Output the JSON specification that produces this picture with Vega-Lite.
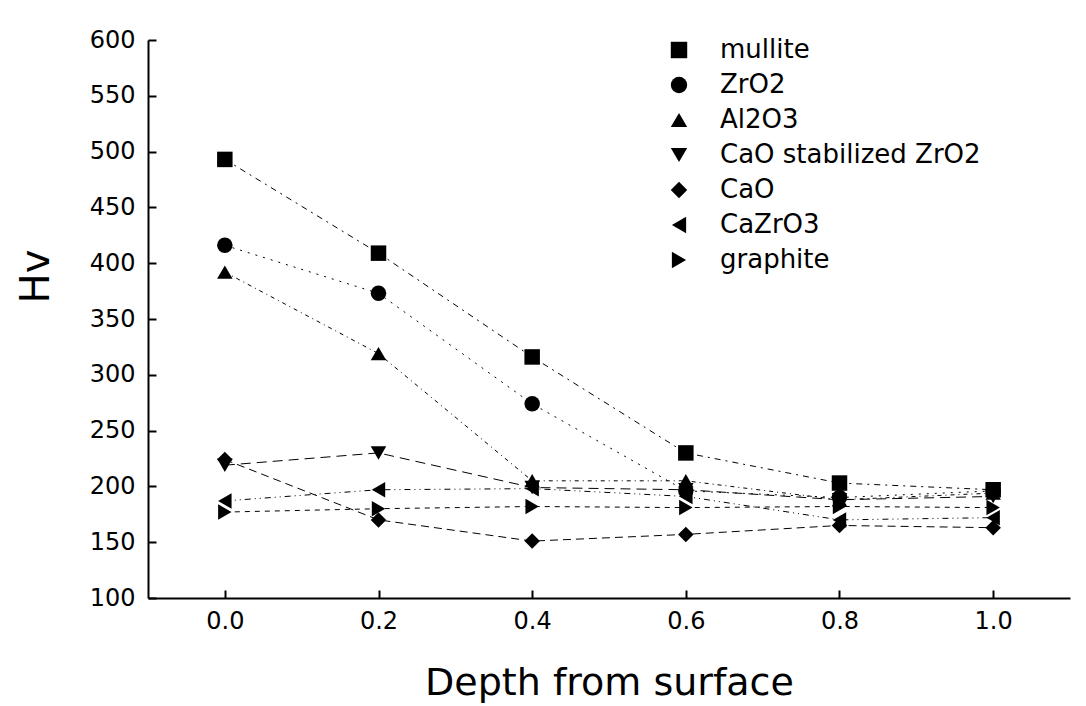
{
  "$schema": "https://vega.github.io/schema/vega-lite/v6.json",
  "width": 922,
  "height": 558,
  "autosize": {"type": "none"},
  "padding": {"left": 148, "top": 40, "right": 16, "bottom": 108},
  "background": "white",
  "config": {"view": {"stroke": null}, "font": "DejaVu Sans"},
  "data": {
    "values": [
      {"material": "mullite", "depth": 0.0, "hv": 493},
      {"material": "mullite", "depth": 0.2, "hv": 409},
      {"material": "mullite", "depth": 0.4, "hv": 316},
      {"material": "mullite", "depth": 0.6, "hv": 230},
      {"material": "mullite", "depth": 0.8, "hv": 203},
      {"material": "mullite", "depth": 1.0, "hv": 197},
      {"material": "ZrO2", "depth": 0.0, "hv": 416},
      {"material": "ZrO2", "depth": 0.2, "hv": 373},
      {"material": "ZrO2", "depth": 0.4, "hv": 274},
      {"material": "ZrO2", "depth": 0.6, "hv": 196},
      {"material": "ZrO2", "depth": 0.8, "hv": 190},
      {"material": "ZrO2", "depth": 1.0, "hv": 196},
      {"material": "Al2O3", "depth": 0.0, "hv": 392},
      {"material": "Al2O3", "depth": 0.2, "hv": 319},
      {"material": "Al2O3", "depth": 0.4, "hv": 205},
      {"material": "Al2O3", "depth": 0.6, "hv": 205},
      {"material": "Al2O3", "depth": 0.8, "hv": 188},
      {"material": "Al2O3", "depth": 1.0, "hv": 194},
      {"material": "CaO stabilized ZrO2", "depth": 0.0, "hv": 219},
      {"material": "CaO stabilized ZrO2", "depth": 0.2, "hv": 230},
      {"material": "CaO stabilized ZrO2", "depth": 0.4, "hv": 199},
      {"material": "CaO stabilized ZrO2", "depth": 0.6, "hv": 197},
      {"material": "CaO stabilized ZrO2", "depth": 0.8, "hv": 188},
      {"material": "CaO stabilized ZrO2", "depth": 1.0, "hv": 191},
      {"material": "CaO", "depth": 0.0, "hv": 224},
      {"material": "CaO", "depth": 0.2, "hv": 170},
      {"material": "CaO", "depth": 0.4, "hv": 151},
      {"material": "CaO", "depth": 0.6, "hv": 157},
      {"material": "CaO", "depth": 0.8, "hv": 165},
      {"material": "CaO", "depth": 1.0, "hv": 163},
      {"material": "CaZrO3", "depth": 0.0, "hv": 187},
      {"material": "CaZrO3", "depth": 0.2, "hv": 197},
      {"material": "CaZrO3", "depth": 0.4, "hv": 198},
      {"material": "CaZrO3", "depth": 0.6, "hv": 191},
      {"material": "CaZrO3", "depth": 0.8, "hv": 170},
      {"material": "CaZrO3", "depth": 1.0, "hv": 172},
      {"material": "graphite", "depth": 0.0, "hv": 177},
      {"material": "graphite", "depth": 0.2, "hv": 180},
      {"material": "graphite", "depth": 0.4, "hv": 182},
      {"material": "graphite", "depth": 0.6, "hv": 181},
      {"material": "graphite", "depth": 0.8, "hv": 182},
      {"material": "graphite", "depth": 1.0, "hv": 181}
    ]
  },
  "encoding": {
    "x": {
      "field": "depth",
      "type": "quantitative",
      "scale": {"domain": [-0.1, 1.1], "nice": false, "zero": false},
      "axis": {
        "values": [0, 0.2, 0.4, 0.6, 0.8, 1.0],
        "format": ".1f",
        "grid": false,
        "domainColor": "black",
        "domainWidth": 2,
        "tickColor": "black",
        "tickWidth": 2,
        "tickSize": -8,
        "labelFontSize": 24,
        "labelColor": "black",
        "labelPadding": 19,
        "title": "Depth from surface",
        "titleFontSize": 38,
        "titleFontWeight": "normal",
        "titleColor": "black",
        "titlePadding": 31
      }
    },
    "y": {
      "field": "hv",
      "type": "quantitative",
      "scale": {"domain": [100, 600], "nice": false, "zero": false},
      "axis": {
        "values": [100, 150, 200, 250, 300, 350, 400, 450, 500, 550, 600],
        "grid": false,
        "domainColor": "black",
        "domainWidth": 2,
        "tickColor": "black",
        "tickWidth": 2,
        "tickSize": -8,
        "labelFontSize": 24,
        "labelColor": "black",
        "labelPadding": 21,
        "title": "Hv",
        "titleFontSize": 40,
        "titleFontWeight": "normal",
        "titleColor": "black",
        "titleAngle": -90,
        "titleAlign": "center",
        "titleBaseline": "middle",
        "titleX": -112,
        "titleY": 236
      }
    }
  },
  "layer": [
    {"transform": [{"filter": "datum.material == 'mullite'"}], "mark": {"type": "line", "strokeWidth": 1, "color": "black", "strokeDash": [6, 5, 2, 5]}, "encoding": {}},
    {"transform": [{"filter": "datum.material == 'ZrO2'"}], "mark": {"type": "line", "strokeWidth": 1, "color": "black", "strokeDash": [2, 6]}, "encoding": {}},
    {"transform": [{"filter": "datum.material == 'Al2O3'"}], "mark": {"type": "line", "strokeWidth": 1, "color": "black", "strokeDash": [4, 4, 1, 4]}, "encoding": {}},
    {"transform": [{"filter": "datum.material == 'CaO stabilized ZrO2'"}], "mark": {"type": "line", "strokeWidth": 1, "color": "black", "strokeDash": [10, 6]}, "encoding": {}},
    {"transform": [{"filter": "datum.material == 'CaO'"}], "mark": {"type": "line", "strokeWidth": 1, "color": "black", "strokeDash": [8, 5]}, "encoding": {}},
    {"transform": [{"filter": "datum.material == 'CaZrO3'"}], "mark": {"type": "line", "strokeWidth": 1, "color": "black", "strokeDash": [6, 4, 1, 4, 1, 4]}, "encoding": {}},
    {"transform": [{"filter": "datum.material == 'graphite'"}], "mark": {"type": "line", "strokeWidth": 1, "color": "black", "strokeDash": [5, 5]}, "encoding": {}},
    {
      "mark": {"type": "point", "filled": true, "color": "black", "opacity": 1, "size": 240},
      "encoding": {
        "shape": {
          "field": "material",
          "type": "nominal",
          "scale": {
            "domain": ["mullite", "ZrO2", "Al2O3", "CaO stabilized ZrO2", "CaO", "CaZrO3", "graphite"],
            "range": ["square", "circle", "triangle-up", "triangle-down", "diamond", "triangle-left", "triangle-right"]
          },
          "legend": {
            "orient": "none",
            "legendX": 518,
            "legendY": -3,
            "title": null,
            "padding": 0,
            "labelFontSize": 26,
            "labelColor": "black",
            "labelOffset": 28,
            "labelLimit": 400,
            "symbolSize": 270,
            "symbolFillColor": "black",
            "symbolStrokeColor": "black",
            "symbolOpacity": 1,
            "rowPadding": 9
          }
        }
      }
    }
  ]
}
